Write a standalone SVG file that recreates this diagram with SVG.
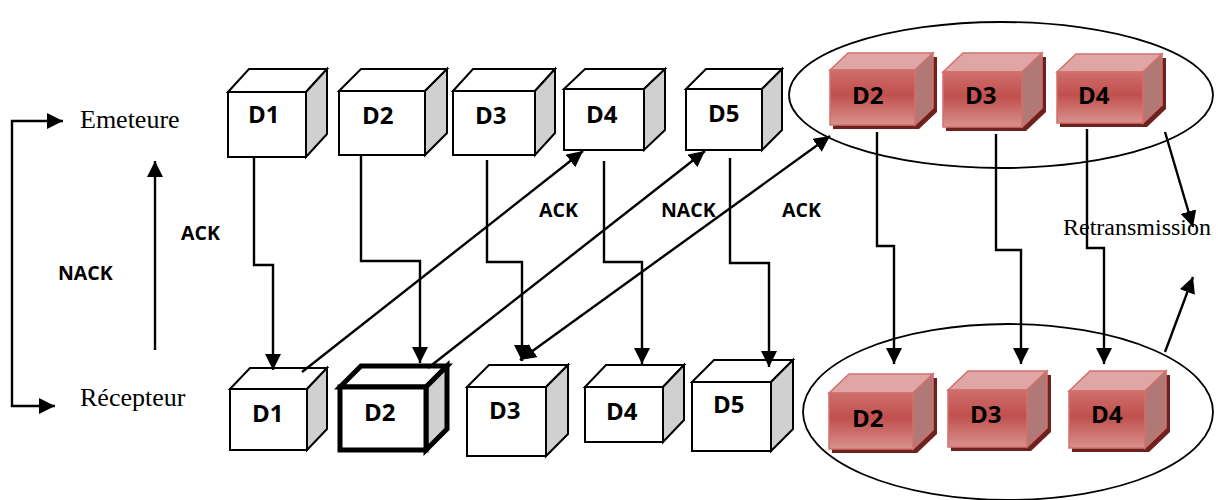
<svg xmlns="http://www.w3.org/2000/svg" width="1218" height="500" viewBox="0 0 1218 500">
  <defs>
    <marker id="ah" viewBox="0 0 16 16" refX="16" refY="8" markerWidth="16" markerHeight="16" markerUnits="userSpaceOnUse" orient="auto-start-reverse">
      <path d="M0,0 L16,8 L0,16 z" fill="#000"/>
    </marker>
    <linearGradient id="redFront" x1="0" y1="0" x2="0" y2="1">
      <stop offset="0" stop-color="#cf6e6b"/>
      <stop offset="0.45" stop-color="#c0504d"/>
      <stop offset="1" stop-color="#d9918e"/>
    </linearGradient>
  </defs>
  <style>
    .front { fill: #ffffff; stroke: #000; stroke-width: 2; stroke-linejoin: miter; }
    .top { fill: #ffffff; stroke: #000; stroke-width: 2; }
    .side { fill: #d0d0d0; stroke: #000; stroke-width: 2; }
    .thick .front, .thick .top, .thick .side { stroke-width: 5; }
    .rshadow { fill: #6e2220; }
    .rfront { fill: url(#redFront); stroke: #d2706d; stroke-width: 1.5; }
    .rtop { fill: #dfa6a5; stroke: #d2706d; stroke-width: 1.5; }
    .rside { fill: #b07976; stroke: #d2706d; stroke-width: 1.5; }
    .lbl { font-family: "Open Sans", "Liberation Sans", sans-serif; font-weight: bold; font-size: 24px; fill: #000; }
    .ack { font-family: "Open Sans", "Liberation Sans", sans-serif; font-weight: bold; font-size: 19.5px; fill: #000; }
    .serif { font-family: "Liberation Serif", "Times New Roman", serif; font-size: 26px; fill: #000; }
    .conn { fill: none; stroke: #000; stroke-width: 2.4; }
    .ell { fill: none; stroke: #000; stroke-width: 1.8; }
  </style>

  <!-- group outlines for retransmitted blocks -->
  <ellipse class="ell" cx="1001" cy="95" rx="212" ry="73"/>
  <ellipse class="ell" cx="1008" cy="412" rx="205" ry="88"/>

  <!-- side labels -->
  <g id="legend">
    <text class="serif" x="80" y="128">Emeteure</text>
    <text class="serif" x="80" y="406">Récepteur</text>
    <text class="ack" x="181" y="240">ACK</text>
    <text class="ack" x="58" y="280">NACK</text>
  </g>

  <!-- sender blocks -->
  <g id="tx-d1">
    <path class="top" d="M228,92 L249,69 L327,69 L306,92 Z"/>
    <path class="side" d="M306,92 L327,69 L327,134 L306,157 Z"/>
    <rect class="front" x="228" y="92" width="78" height="65"/>
    <text class="lbl" x="248" y="123">D1</text>
  </g>
  <g id="tx-d2">
    <path class="top" d="M339,91 L361,69 L447,69 L425,91 Z"/>
    <path class="side" d="M425,91 L447,69 L447,133 L425,155 Z"/>
    <rect class="front" x="339" y="91" width="86" height="64"/>
    <text class="lbl" x="362" y="124">D2</text>
  </g>
  <g id="tx-d3">
    <path class="top" d="M453,91 L473,69 L555,69 L535,91 Z"/>
    <path class="side" d="M535,91 L555,69 L555,133 L535,155 Z"/>
    <rect class="front" x="453" y="91" width="82" height="64"/>
    <text class="lbl" x="475" y="124">D3</text>
  </g>
  <g id="tx-d4">
    <path class="top" d="M564,89 L585,69 L665,69 L644,89 Z"/>
    <path class="side" d="M644,89 L665,69 L665,130 L644,150 Z"/>
    <rect class="front" x="564" y="89" width="80" height="61"/>
    <text class="lbl" x="586" y="123">D4</text>
  </g>
  <g id="tx-d5">
    <path class="top" d="M686,89 L706,69 L782,69 L762,89 Z"/>
    <path class="side" d="M762,89 L782,69 L782,130 L762,150 Z"/>
    <rect class="front" x="686" y="89" width="76" height="61"/>
    <text class="lbl" x="708" y="122">D5</text>
  </g>

  <!-- receiver blocks -->
  <g id="rx-d1">
    <path class="top" d="M230,389 L250,368 L327,368 L307,389 Z"/>
    <path class="side" d="M307,389 L327,368 L327,429 L307,450 Z"/>
    <rect class="front" x="230" y="389" width="77" height="61"/>
    <text class="lbl" x="252" y="422">D1</text>
  </g>
  <g id="rx-d2" class="thick">
    <path class="top" d="M340,387 L361,366 L447,366 L426,387 Z"/>
    <path class="side" d="M426,387 L447,366 L447,429 L426,450 Z"/>
    <rect class="front" x="340" y="387" width="86" height="63"/>
    <text class="lbl" x="364" y="421">D2</text>
  </g>
  <g id="rx-d3">
    <path class="top" d="M467,387 L489,365 L568,365 L546,387 Z"/>
    <path class="side" d="M546,387 L568,365 L568,434 L546,456 Z"/>
    <rect class="front" x="467" y="387" width="79" height="69"/>
    <text class="lbl" x="489" y="419">D3</text>
  </g>
  <g id="rx-d4">
    <path class="top" d="M585,387 L606,365 L684,365 L663,387 Z"/>
    <path class="side" d="M663,387 L684,365 L684,420 L663,442 Z"/>
    <rect class="front" x="585" y="387" width="78" height="55"/>
    <text class="lbl" x="606" y="420">D4</text>
  </g>
  <g id="rx-d5">
    <path class="top" d="M692,382 L714,360 L793,360 L771,382 Z"/>
    <path class="side" d="M771,382 L793,360 L793,429 L771,451 Z"/>
    <rect class="front" x="692" y="382" width="79" height="69"/>
    <text class="lbl" x="713" y="413">D5</text>
  </g>

  <!-- retransmitted blocks, sender side -->
  <g id="re-tx-d2">
    <path class="rshadow" d="M833,74 L851,57 L937,57 L937,112 L919,129 L833,129 Z"/>
    <path class="rtop" d="M830,70 L848,53 L933,53 L915,70 Z"/>
    <path class="rside" d="M915,70 L933,53 L933,108 L915,125 Z"/>
    <rect class="rfront" x="830" y="70" width="85" height="55"/>
    <text class="lbl" x="852" y="104">D2</text>
  </g>
  <g id="re-tx-d3">
    <path class="rshadow" d="M946,76 L966,57 L1046,57 L1046,112 L1026,131 L946,131 Z"/>
    <path class="rtop" d="M943,72 L963,53 L1042,53 L1022,72 Z"/>
    <path class="rside" d="M1022,72 L1042,53 L1042,108 L1022,127 Z"/>
    <rect class="rfront" x="943" y="72" width="79" height="55"/>
    <text class="lbl" x="965" y="104">D3</text>
  </g>
  <g id="re-tx-d4">
    <path class="rshadow" d="M1060,76 L1079,58 L1166,58 L1166,109 L1147,127 L1060,127 Z"/>
    <path class="rtop" d="M1057,72 L1076,54 L1162,54 L1143,72 Z"/>
    <path class="rside" d="M1143,72 L1162,54 L1162,105 L1143,123 Z"/>
    <rect class="rfront" x="1057" y="72" width="86" height="51"/>
    <text class="lbl" x="1078" y="104">D4</text>
  </g>

  <!-- retransmitted blocks, receiver side -->
  <g id="re-rx-d2">
    <path class="rshadow" d="M832,397 L852,378 L937,378 L937,434 L917,453 L832,453 Z"/>
    <path class="rtop" d="M829,393 L849,374 L933,374 L913,393 Z"/>
    <path class="rside" d="M913,393 L933,374 L933,430 L913,449 Z"/>
    <rect class="rfront" x="829" y="393" width="84" height="56"/>
    <text class="lbl" x="852" y="427">D2</text>
  </g>
  <g id="re-rx-d3">
    <path class="rshadow" d="M951,394 L971,375 L1051,375 L1051,432 L1031,451 L951,451 Z"/>
    <path class="rtop" d="M948,390 L968,371 L1047,371 L1027,390 Z"/>
    <path class="rside" d="M1027,390 L1047,371 L1047,428 L1027,447 Z"/>
    <rect class="rfront" x="948" y="390" width="79" height="57"/>
    <text class="lbl" x="970" y="423">D3</text>
  </g>
  <g id="re-rx-d4">
    <path class="rshadow" d="M1072,395 L1093,375 L1170,375 L1170,432 L1149,452 L1072,452 Z"/>
    <path class="rtop" d="M1069,391 L1090,371 L1166,371 L1145,391 Z"/>
    <path class="rside" d="M1145,391 L1166,371 L1166,428 L1145,448 Z"/>
    <rect class="rfront" x="1069" y="391" width="76" height="57"/>
    <text class="lbl" x="1091" y="423">D4</text>
  </g>

  <!-- labels on the link -->
  <g id="link-labels">
    <text class="ack" x="539" y="217">ACK</text>
    <text class="ack" x="661" y="217">NACK</text>
    <text class="ack" x="782" y="217">ACK</text>
    <text class="serif" x="1063" y="235" style="font-size:24px">Retransmission</text>
  </g>

  <!-- connectors -->
  <g id="connectors">
    <!-- legend bracket and direction arrow -->
    <path class="conn" d="M63,121 L12,121 L12,406 L55,406" marker-start="url(#ah)" marker-end="url(#ah)"/>
    <path class="conn" d="M155,350 L155,161" marker-end="url(#ah)"/>

    <!-- data frames, sender to receiver -->
    <path class="conn" d="M254,157 L254,265 L273,265 L273,370" marker-end="url(#ah)"/>
    <path class="conn" d="M361,155 L361,261 L420,261 L420,363" marker-end="url(#ah)"/>
    <path class="conn" d="M487,160 L487,262 L522,262 L522,361" marker-end="url(#ah)"/>
    <path class="conn" d="M604,161 L604,262 L642,262 L642,364" marker-end="url(#ah)"/>
    <path class="conn" d="M730,158 L730,263 L769,263 L769,367" marker-end="url(#ah)"/>

    <!-- acknowledgements, receiver to sender -->
    <path class="conn" d="M302,372 L583,151" marker-end="url(#ah)"/>
    <path class="conn" d="M428,368 L705,151" marker-end="url(#ah)"/>
    <path class="conn" d="M520,360 L830,136" marker-start="url(#ah)" marker-end="url(#ah)"/>

    <!-- retransmitted frames -->
    <path class="conn" d="M877,132 L877,246 L894,246 L894,364" marker-end="url(#ah)"/>
    <path class="conn" d="M996,134 L996,250 L1021,250 L1021,364" marker-end="url(#ah)"/>
    <path class="conn" d="M1087,129 L1087,248 L1104,248 L1104,364" marker-end="url(#ah)"/>

    <!-- retransmission pointers -->
    <path class="conn" d="M1165,132 L1193,227" marker-end="url(#ah)"/>
    <path class="conn" d="M1165,352 L1193,277" marker-end="url(#ah)"/>
  </g>
</svg>
